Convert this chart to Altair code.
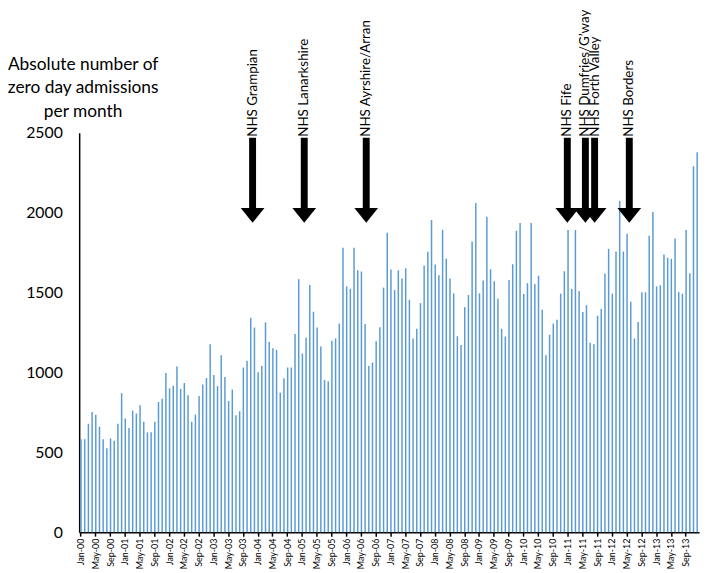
import altair as alt
import pandas as pd

# ---- data ----
years = list(range(2000, 2014))
month_names = ["Jan", "Feb", "Mar", "Apr", "May", "Jun",
               "Jul", "Aug", "Sep", "Oct", "Nov", "Dec"]

vals_2000 = [582, 582, 679, 753, 736, 660, 582, 526, 586, 573, 679, 870]
vals_2001 = [712, 652, 761, 743, 794, 691, 625, 625, 691, 815, 835, 996]
vals_2002 = [901, 916, 1038, 897, 934, 858, 691, 736, 852, 924, 965, 1176]
vals_2003 = [984, 914, 1108, 971, 821, 893, 732, 757, 1031, 1073, 1343, 1281]
vals_2004 = [1002, 1040, 1314, 1190, 1151, 1141, 873, 963, 1031, 1031, 1240, 1584]
vals_2005 = [1118, 1217, 1547, 1380, 1281, 1163, 953, 945, 1198, 1213, 1306, 1780]
vals_2006 = [1539, 1524, 1780, 1640, 1632, 1304, 1040, 1062, 1196, 1283, 1531, 1875]
vals_2007 = [1644, 1516, 1640, 1588, 1652, 1454, 1213, 1273, 1434, 1669, 1755, 1955]
vals_2008 = [1675, 1609, 1894, 1712, 1588, 1495, 1227, 1172, 1409, 1485, 1819, 2061]
vals_2009 = [1495, 1576, 1974, 1646, 1571, 1462, 1273, 1225, 1578, 1677, 1887, 1935]
vals_2010 = [1491, 1559, 1935, 1553, 1605, 1392, 1108, 1236, 1306, 1330, 1493, 1634]
vals_2011 = [1892, 1522, 1892, 1510, 1378, 1421, 1186, 1176, 1355, 1397, 1619, 1774]
vals_2012 = [1493, 1757, 2073, 1757, 1869, 1442, 1213, 1316, 1502, 1502, 1856, 2005]
vals_2013 = [1539, 1545, 1739, 1718, 1712, 1838, 1504, 1493, 1892, 1621, 2290, 2378]

admissions = (vals_2000 + vals_2001 + vals_2002 + vals_2003 + vals_2004 + vals_2005 +
              vals_2006 + vals_2007 + vals_2008 + vals_2009 + vals_2010 + vals_2011 +
              vals_2012 + vals_2013)

month_labels = [f"{m}-{y % 100:02d}" for y in years for m in month_names]
tick_labels = month_labels[::4]          # Jan, May, Sep of each year

# events (board names) and their position in months since Jan-00
event_names = ["NHS Grampian", "NHS Lanarkshire", "NHS Ayrshire/Arran", "NHS Fife",
               "NHS Dumfries/G\u2019way", "NHS Forth Valley", "NHS Borders"]
event_pos = [46.5, 60.5, 77.3, 131.8, 136.7, 139.2, 148.6]

title_lines = ["Absolute number of", "zero day admissions", "per month"]
y_ticks = [0, 500, 1000, 1500, 2000, 2500]

# ---- tables ----
df = pd.DataFrame({"month": month_labels, "admissions": admissions})
ev = pd.DataFrame({"name": event_names, "pos": event_pos})

FONT = "Lato"
N = len(admissions)

bars = alt.Chart(df).mark_bar(size=1.5, color="#5B9BD5").encode(
    x=alt.X("month:O", sort=month_labels,
            scale=alt.Scale(paddingInner=0, paddingOuter=0),
            axis=alt.Axis(values=tick_labels, labelAngle=270, labelOverlap=False,
                          labelFont=FONT, labelFontSize=9, labelColor="black",
                          tickColor="black", tickSize=4, tickWidth=1.5, bandPosition=0.5,
                          domainColor="black", domainWidth=1.5, labelPadding=2,
                          grid=False, title=None)),
    y=alt.Y("admissions:Q",
            scale=alt.Scale(domain=[0, 2500], nice=False),
            axis=alt.Axis(values=y_ticks, format="d", ticks=False, grid=False,
                          domainColor="black", domainWidth=1.5,
                          labelFont=FONT, labelFontSize=16, labelColor="black",
                          labelPadding=17, title=None)),
    tooltip=["month:N", "admissions:Q"],
)

x_ev = alt.X("pos:Q", scale=alt.Scale(domain=[-0.5, N - 0.5], nice=False, zero=False),
             axis=None)

shafts = alt.Chart(ev).mark_rule(color="black", strokeWidth=7, strokeCap="butt").encode(
    x=x_ev, y=alt.value(5), y2=alt.value(77),
)

heads = alt.Chart(ev).mark_point(
    shape="M-1,-0.62L1,-0.62L0,0.62Z", size=576, filled=True,
    color="black", opacity=1, strokeWidth=0,
).encode(x=x_ev, y=alt.value(83.5))

labels = alt.Chart(ev).mark_text(
    angle=270, align="left", baseline="middle",
    font=FONT, fontSize=13.5, color="black",
).encode(x=x_ev, y=alt.value(4), text="name:N")

title = alt.Chart(pd.DataFrame({"k": [0]})).mark_text(
    text=title_lines, font=FONT, fontSize=17.5, color="black",
    align="center", baseline="top", lineHeight=24,
).encode(x=alt.value(4), y=alt.value(-78))

arrows = alt.layer(shafts, heads, labels)

chart = alt.layer(bars, arrows, title).resolve_scale(x="independent").properties(
    width=627, height=404,
    padding={"left": 72, "top": 123, "right": 2, "bottom": 38},
    autosize=alt.AutoSizeParams(type="none"),
    background="white",
).configure_view(stroke=None)

chart.save("out.html", embed_options={"renderer": "svg", "actions": False})
